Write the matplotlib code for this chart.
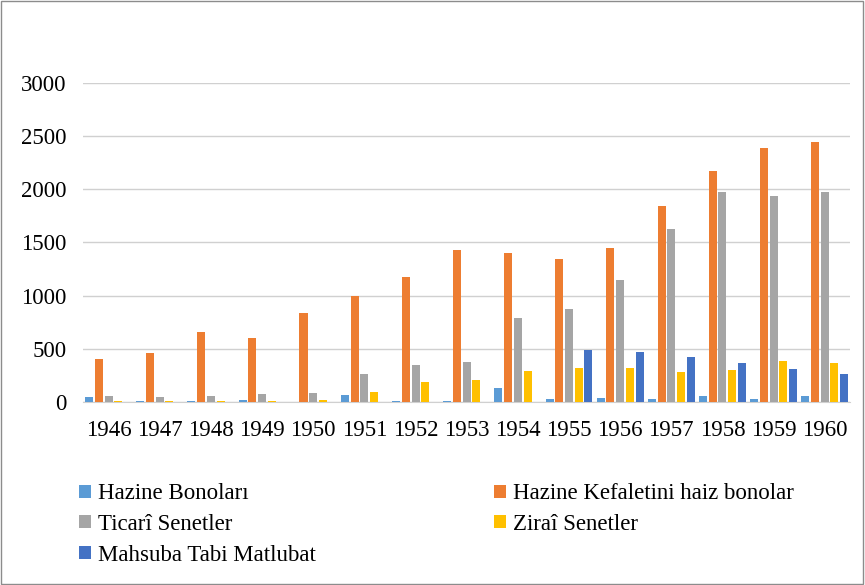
import numpy as np
import matplotlib.pyplot as plt
from matplotlib.patches import Rectangle

plt.rcParams['font.family'] = ['Liberation Serif', 'DejaVu Serif']

years = ['1946', '1947', '1948', '1949', '1950', '1951', '1952', '1953',
         '1954', '1955', '1956', '1957', '1958', '1959', '1960']
hazine_bonolari = [44, 9, 9, 22, 0, 63, 9, 9, 135, 31, 41, 31, 53, 31, 53]
hazine_kefaletli = [405, 458, 655, 602, 837, 997, 1175, 1429, 1400, 1344, 1448, 1842, 2171, 2388, 2444]
ticari = [53, 44, 53, 75, 85, 263, 345, 373, 790, 874, 1147, 1626, 1974, 1936, 1974]
zirai = [12, 12, 12, 12, 22, 94, 188, 207, 291, 322, 322, 282, 301, 385, 363]
mahsuba = [0, 0, 0, 0, 0, 0, 0, 0, 0, 489, 467, 426, 363, 310, 260]

series = [hazine_bonolari, hazine_kefaletli, ticari, zirai, mahsuba]
names = ['Hazine Bonoları', 'Hazine Kefaletini haiz bonolar', 'Ticarî Senetler',
         'Ziraî Senetler', 'Mahsuba Tabi Matlubat']
colors = ['#5B9BD5', '#ED7D31', '#A5A5A5', '#FFC000', '#4472C4']

fig = plt.figure(figsize=(8.65, 5.85), dpi=100)
fig.patches.append(Rectangle((0.001, 0.001), 0.997, 0.997, transform=fig.transFigure,
                             fill=False, edgecolor='#8c8c8c', linewidth=1))
ax = fig.add_axes([0.096, 0.313, 0.887, 0.545])

x = np.arange(len(years))
pitch = 0.19
width = 0.157
bars = []
for i, (vals, name, c) in enumerate(zip(series, names, colors)):
    b = ax.bar(x + (i - 2) * pitch, vals, width, color=c, label=name, zorder=3)
    bars.append(b)

ax.set_xlim(-0.5, len(years) - 0.5)
ax.set_ylim(0, 3000)
ax.set_yticks(np.arange(0, 3001, 500))
ax.set_xticks(x)
ax.set_xticklabels(years)
ax.grid(axis='y', color='#d0d0d0', linewidth=1, zorder=0)
for s in ['top', 'right', 'left']:
    ax.spines[s].set_visible(False)
ax.spines['bottom'].set_color('#d0d0d0')
ax.tick_params(length=0, labelsize=16.5, colors='#000000')
ax.tick_params(axis='y', pad=12)
ax.tick_params(axis='x', pad=13)

order = [0, 2, 4, 1, 3]
fig.legend([bars[i] for i in order], [names[i] for i in order], ncol=2,
           loc='upper left', bbox_to_anchor=(0.068, 0.209), frameon=False,
           fontsize=16.5, handlelength=0.5, handleheight=0.5, handletextpad=0.3,
           columnspacing=7.8, labelspacing=0.42)

fig.savefig('out.png', dpi=100)
